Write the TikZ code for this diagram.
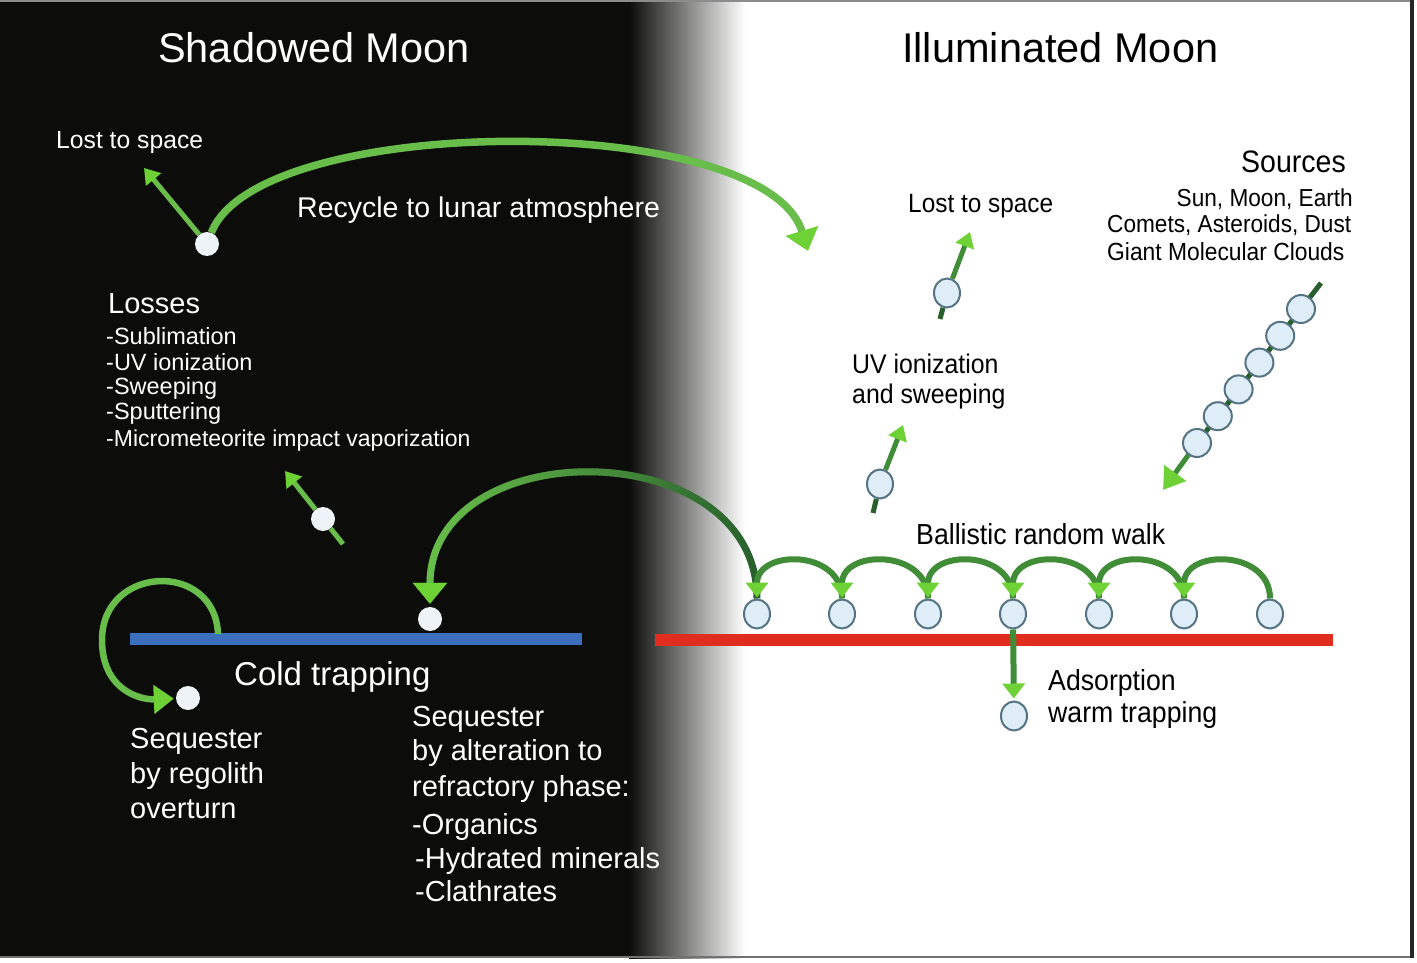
\documentclass[tikz,border=0pt]{standalone}
\usepackage{fontspec}
\setmainfont{Liberation Sans}
\newfontfamily\narrowsf{Liberation Sans}[FakeStretch=0.92]
\usetikzlibrary{arrows.meta,shapes.geometric,fadings}
\definecolor{bgblack}{RGB}{12,12,10}
\definecolor{lgreen}{RGB}{105,190,75}
\definecolor{tipgreen}{RGB}{110,210,55}
\definecolor{mgreen}{RGB}{65,140,55}
\definecolor{dgreen}{RGB}{40,95,45}
\definecolor{barblue}{RGB}{60,110,190}
\definecolor{barred}{RGB}{225,45,30}
\definecolor{pfill}{RGB}{222,237,247}
\definecolor{pedge}{RGB}{85,115,130}
\definecolor{dotwhite}{RGB}{238,243,248}
\newcommand\fsz[1]{\fontsize{#1}{#1}\selectfont}
\begin{document}
\begin{tikzpicture}[x=1pt,y=-1pt,
  wlabel/.style={anchor=base west,inner sep=0pt,text=white},
  blabel/.style={anchor=base west,inner sep=0pt,text=black,font=\narrowsf},
  dot/.style={circle,fill=dotwhite,minimum size=24pt,inner sep=0pt},
  part/.style={ellipse,fill=pfill,draw=pedge,line width=2pt,minimum width=26pt,minimum height=29pt,inner sep=0pt},
  bigarrow/.style={draw=lgreen,line width=7.5pt,-{Triangle[width=33pt,length=21pt,color=tipgreen]}},
  midarrow/.style={draw=dgreen,line width=7pt,-{Triangle[width=33pt,length=21pt,color=tipgreen]}},
  hoparrow/.style={draw=mgreen,line width=6pt,shorten >=1pt,-{Triangle[width=22pt,length=15pt,color=tipgreen]}},
  smallarrow/.style={draw=lgreen,line width=5pt,-{Triangle[width=19pt,length=15pt,color=tipgreen]}},
  ptail/.style={draw=dgreen,line width=5pt},
]
\useasboundingbox (0,0) rectangle (1417,963);
% background
\fill[white] (0,0) rectangle (1417,963);
\fill[bgblack] (0,0) rectangle (630,958);
\shade[left color=bgblack,right color=white] (629,0) rectangle (745,958);
\draw[black!45,line width=2pt] (0,1) -- (1412,1);
\draw[black!55,line width=2pt] (0,957) -- (1412,957);
\draw[black!85,line width=3.5pt] (1412,0) -- (1412,958);

% titles
\node[wlabel,font=\fsz{41.5}] (tshadow) at (158,63) {Shadowed Moon};
\node[anchor=base west,inner sep=0pt,font=\fsz{41.5}] (tillum) at (902,63) {Illuminated Moon};

% surfaces
\draw[barblue,line width=12pt] (130,639) -- (582,639);
\draw[barred,line width=12pt] (655,640) -- (1333,640);

% ---------- shadowed side ----------
\node[dot] (s1) at (207,244) {};
\coordinate (s1lost) at (144,168);
\coordinate (s1rec) at (808,251);
\draw[smallarrow] (s1) -- (s1lost);
\draw[bigarrow] (s1) .. controls (258,112) and (765,110) .. (s1rec);

\node[wlabel,font=\fsz{24.7}] (llost) at (56,149) {Lost to space};
\node[wlabel,font=\fsz{28.5}] (lrec) at (297,218) {Recycle to lunar atmosphere};
\node[wlabel,font=\fsz{29}] (lloss) at (108,313) {Losses};
\node[wlabel,font=\fsz{23.5}] (lloss1) at (106,344) {-Sublimation};
\node[wlabel,font=\fsz{23.5}] (lloss2) at (106,370) {-UV ionization};
\node[wlabel,font=\fsz{23.5}] (lloss3) at (106,394) {-Sweeping};
\node[wlabel,font=\fsz{23.5}] (lloss4) at (106,419) {-Sputtering};
\node[wlabel,font=\fsz{23}] (lloss5) at (106,446) {-Micrometeorite impact vaporization};

\node[dot] (s3) at (323,519) {};
\coordinate (s3tail) at (343,544);
\coordinate (s3tip) at (285,471);
\draw[draw=lgreen,line width=5pt] (s3tail) -- (s3);
\draw[smallarrow] (s3) -- (s3tip);

\node[dot] (s4) at (430,619) {};
\node[dot] (s2) at (188,698) {};
\coordinate (loopstart) at (218,634);
\draw[bigarrow,line width=6.5pt,-{Triangle[width=28pt,length=20pt,color=tipgreen]},shorten >=2pt]
  (loopstart) .. controls (215,560) and (102,565) .. (102,640) .. controls (102,690) and (140,700) .. (s2);

\node[wlabel,font=\fsz{33}] (lcold) at (234,685) {Cold trapping};
\node[wlabel,font=\fsz{29}] (lreg1) at (130,748) {Sequester};
\node[wlabel,font=\fsz{29}] (lreg2) at (130,783) {by regolith};
\node[wlabel,font=\fsz{29}] (lreg3) at (130,818) {overturn};
\node[wlabel,font=\fsz{29}] (lalt1) at (412,726) {Sequester};
\node[wlabel,font=\fsz{29}] (lalt2) at (412,760) {by alteration to};
\node[wlabel,font=\fsz{29}] (lalt3) at (412,796) {refractory phase:};
\node[wlabel,font=\fsz{29}] (lalt4) at (412,834) {-Organics};
\node[wlabel,font=\fsz{29}] (lalt5) at (415,868) {-Hydrated minerals};
\node[wlabel,font=\fsz{29}] (lalt6) at (415,901) {-Clathrates};

% ---------- illuminated side ----------
\foreach \i/\x in {1/757,2/842,3/928,4/1013,5/1099,6/1184,7/1270}
  \node[part] (b\i) at (\x,614) {};

\draw[midarrow,shorten >=3pt] (b1) .. controls (757,432) and (430,432) .. (s4);
\draw[midarrow,draw=lgreen,shorten >=3pt,path fading=east] (b1) .. controls (757,432) and (430,432) .. (s4);
\foreach \i/\j in {2/1,3/2,4/3,5/4,6/5,7/6}
  \draw[hoparrow] (b\i) .. controls +(0,-65) and +(0,-65) .. (b\j);

\node[part] (ads) at (1014,716) {};
\draw[hoparrow,shorten >=2pt] (b4) -- (ads);

\node[part] (p1) at (947,293) {};
\coordinate (p1tail) at (940,319);
\coordinate (p1tip) at (970,232);
\draw[ptail] (p1tail) -- (p1);
\draw[smallarrow,draw=mgreen] (p1) -- (p1tip);

\node[part] (p2) at (880,484) {};
\coordinate (p2tail) at (873,513);
\coordinate (p2tip) at (903,425);
\draw[ptail] (p2tail) -- (p2);
\draw[smallarrow,draw=mgreen] (p2) -- (p2tip);

\coordinate (ctail) at (1321,283);
\coordinate (ctip) at (1163,490);
\draw[ptail] (ctail) -- (1301,309) -- (1197,443);
\draw[smallarrow,draw=mgreen,line width=5pt,-{Triangle[width=26pt,length=21pt,color=tipgreen]}] (1197,443) -- (ctip);
\foreach \i/\x/\y in {1/1301/309,2/1280.2/335.8,3/1259.4/362.6,4/1238.6/389.4,5/1217.8/416.2,6/1197/443}
  \node[part,minimum width=28pt,minimum height=28pt] (c\i) at (\x,\y) {};

\node[blabel,font=\narrowsf\fsz{26.5}] (rlost) at (908,212) {Lost to space};
\node[blabel,font=\narrowsf\fsz{27}] (ruv1) at (852,373) {UV ionization};
\node[blabel,font=\narrowsf\fsz{27}] (ruv2) at (852,403) {and sweeping};
\node[blabel,font=\narrowsf\fsz{31}] (rsrc) at (1241,173) {Sources};
\node[anchor=base east,inner sep=0pt,font=\narrowsf\fsz{24.6}] (rsrc1) at (1353,206) {Sun, Moon, Earth};
\node[blabel,font=\narrowsf\fsz{24.6}] (rsrc2) at (1107,233) {Comets, Asteroids, Dust};
\node[blabel,font=\narrowsf\fsz{24.8}] (rsrc3) at (1107,260) {Giant Molecular Clouds};
\node[blabel,font=\narrowsf\fsz{29}] (rball) at (916,544) {Ballistic random walk};
\node[blabel,font=\narrowsf\fsz{29}] (rads1) at (1048,690) {Adsorption};
\node[blabel,font=\narrowsf\fsz{29}] (rads2) at (1048,722) {warm trapping};
\end{tikzpicture}
\end{document}
